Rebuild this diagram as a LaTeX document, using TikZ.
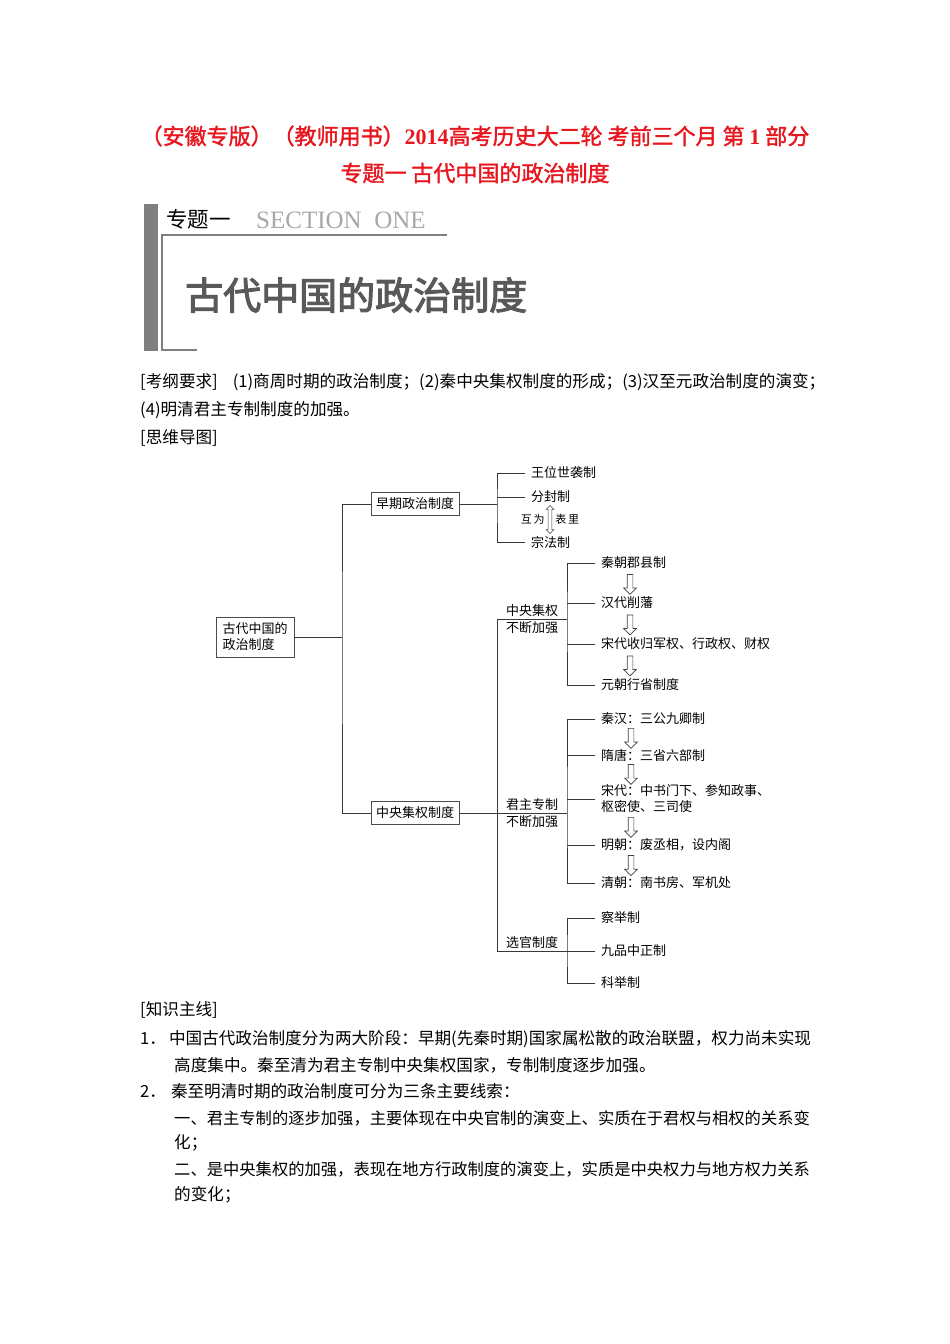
\documentclass[tikz,border=0pt]{standalone}
\usepackage{fontspec}
\setmainfont{Liberation Serif}
\newfontfamily\cjk{Noto Sans CJK SC}
\newfontfamily\cjkheavy[FakeBold=1.6]{Noto Sans CJK SC}
\newfontfamily\cjkblack[FakeBold=2.8]{Noto Sans CJK SC}
\usepackage{tikz}
\usetikzlibrary{shapes.arrows,positioning,calc}
\definecolor{titlered}{HTML}{E8161E}
\definecolor{banner}{HTML}{7F7F7F}
\definecolor{bannertext}{HTML}{595959}
\definecolor{sectiongray}{HTML}{A8A8A8}
\newcommand{\mapfont}{\cjk\fontsize{13}{16}\selectfont}
\newcommand{\bodyfont}{\cjk\fontsize{16.6}{19}\selectfont}

\begin{document}
\begin{tikzpicture}[x=1pt,y=-1pt,
        line/.style={draw=black!78,line width=0.8pt},
        box/.style={draw=black!70,line width=0.8pt,font=\mapfont,
                    minimum height=23pt,inner xsep=5pt},
        leaf/.style={font=\mapfont,anchor=west,inner xsep=6pt,inner ysep=2pt,align=left},
        grp/.style={font=\mapfont,inner sep=2pt},
        tinylbl/.style={font=\cjk\fontsize{11}{12}\selectfont,inner sep=1pt},
        hollow/.style={single arrow,draw=black!75,line width=0.7pt,fill=white,
                       shape border rotate=270,minimum height=20pt,
                       single arrow head extend=3.5pt,inner sep=2.5pt},
        twoway/.style={double arrow,draw=black!75,line width=0.6pt,fill=white,
                       shape border rotate=90,minimum height=28pt,
                       double arrow head extend=2pt,inner sep=1.6pt},
        body/.style={font=\bodyfont,anchor=west,inner sep=0pt},
        tightbody/.style={body,font=\cjk\fontsize{16.3}{19}\selectfont},
        heading/.style={font=\cjkheavy\fontsize{22}{26}\selectfont,text=titlered,inner sep=0pt}
      ]
        \useasboundingbox[fill=white] (0,0) rectangle (950,1344);

        % page title
        \node[heading] (title1) at (475,136)
          {（安徽专版）（教师用书）{\rmfamily\bfseries 2014}高考历史大二轮 考前三个月 第 {\rmfamily\bfseries 1} 部分};
        \node[heading] (title2) at (475,173) {专题一 古代中国的政治制度};

        % banner
        \fill[banner] (143.5,204) rectangle (157.5,351);
        \draw[banner,line width=1.3pt] (447,235) -- (162,235) -- (162,350) -- (197,350);
        \node[font=\cjk\fontsize{21.5}{24}\selectfont,anchor=west,inner sep=0pt] (topic) at (166,219) {专题一};
        \node[font=\fontsize{25}{28}\selectfont,text=sectiongray,anchor=west,inner sep=0pt] (section)
          at (256,220) {SECTION\ \ ONE};
        \node[font=\cjkblack\fontsize{38}{42}\selectfont,text=bannertext,anchor=west,inner sep=0pt] (bigtitle)
          at (185,295) {古代中国的政治制度};

        % outline text
        \node[body] (req1) at (140,382)
          {[考纲要求]\hspace{15pt}(1)商周时期的政治制度；(2)秦中央集权制度的形成；(3)汉至元政治制度的演变；};
        \node[body] (req2) at (140,410) {(4)明清君主专制制度的加强。};
        \node[body] (mapttl) at (140,438) {[思维导图]};

        % mind map: root and first level
        \node[box,align=left,minimum width=78pt,minimum height=40pt,inner xsep=6pt] (root) at (255,637)
          {古代中国的\\政治制度};
        \node[box] (early) at (415,504) {早期政治制度};
        \node[box] (central) at (415,813) {中央集权制度};
        \coordinate (j1) at (342,637);
        \draw[line] (root.east) -- (j1);
        \draw[line] (early.west) -| (j1) |- (central.west);

        % early institutions
        \coordinate (e1) at (497,504);
        \node[leaf] (wang) at (525,473) {王位世袭制};
        \node[leaf] (fen) at (525,497) {分封制};
        \node[leaf] (zong) at (525,542) {宗法制};
        \draw[line] (early.east) -- (e1);
        \draw[line] (wang.west) -| (e1) |- (zong.west);
        \draw[line] (fen.west) -- (fen.west -| e1);
        \coordinate (dx) at (550,0);
        \path (fen.south -| dx) -- (zong.north -| dx) node[midway,twoway] (bond) {};
        \node[tinylbl,left=2pt of bond] (huwei) {互\,为};
        \node[tinylbl,right=2pt of bond] (biaoli) {表\,里};

        % centralization: three lines
        \coordinate (c1) at (497,813);
        \coordinate (zy) at (567,619);
        \coordinate (jz) at (567,813);
        \coordinate (xg) at (567,951);
        \draw[line] (central.east) -- (c1);
        \draw[line] (c1) -- (jz) node[grp,midway,above] {君主专制} node[grp,midway,below] {不断加强};
        \draw[line] (zy) -- (zy -| c1) node[grp,midway,above] {中央集权} node[grp,midway,below] {不断加强}
          -- (xg -| c1) -- (xg) node[grp,midway,above] {选官制度};

        % local administration
        \node[leaf] (qin) at (595,563) {秦朝郡县制};
        \node[leaf] (han) at (595,603) {汉代削藩};
        \node[leaf] (song) at (595,644) {宋代收归军权、行政权、财权};
        \node[leaf] (yuan) at (595,685) {元朝行省制度};
        \draw[line] (qin.west) -| (zy) |- (yuan.west);
        \draw[line] (han.west) -- (han.west -| zy);
        \draw[line] (song.west) -- (song.west -| zy);
        \coordinate (ax) at (630,0);
        \path (qin.south -| ax) -- (han.north -| ax) node[midway,hollow] {};
        \path (han.south -| ax) -- (song.north -| ax) node[midway,hollow] {};
        \path (song.south -| ax) -- (yuan.north -| ax) node[midway,hollow] {};

        % central offices
        \node[leaf] (qinhan) at (595,719) {秦汉：三公九卿制};
        \node[leaf] (suitang) at (595,755) {隋唐：三省六部制};
        \node[leaf] (songdai) at (595,799) {宋代：中书门下、参知政事、\\枢密使、三司使};
        \node[leaf] (ming) at (595,845) {明朝：废丞相，设内阁};
        \node[leaf] (qing) at (595,883) {清朝：南书房、军机处};
        \draw[line] (qinhan.west) -| (jz) |- (qing.west);
        \draw[line] (suitang.west) -- (suitang.west -| jz);
        \draw[line] (songdai.west) -- (songdai.west -| jz);
        \draw[line] (ming.west) -- (ming.west -| jz);
        \coordinate (bx) at (631,0);
        \path (qinhan.south -| bx) -- (suitang.north -| bx) node[midway,hollow] {};
        \path (suitang.south -| bx) -- (songdai.north -| bx) node[midway,hollow] {};
        \path (songdai.south -| bx) -- (ming.north -| bx) node[midway,hollow] {};
        \path (ming.south -| bx) -- (qing.north -| bx) node[midway,hollow] {};

        % selection of officials
        \node[leaf] (chaju) at (595,918) {察举制};
        \node[leaf] (jiupin) at (595,951) {九品中正制};
        \node[leaf] (keju) at (595,983) {科举制};
        \draw[line] (chaju.west) -| (xg) |- (keju.west);
        \draw[line] (xg) -- (jiupin.west);

        % main threads
        \node[body] (thread) at (140,1010) {[知识主线]};
        \node[body] (p1a) at (140,1039) {1．\hspace{3pt}中国古代政治制度分为两大阶段：早期(先秦时期)国家属松散的政治联盟，权力尚未实现};
        \node[body] (p1b) at (174,1065) {高度集中。秦至清为君主专制中央集权国家，专制制度逐步加强。};
        \node[body] (p2a) at (140,1091) {2．\hspace{5pt}秦至明清时期的政治制度可分为三条主要线索：};
        \node[tightbody] (p2b) at (174,1118) {一、君主专制的逐步加强，主要体现在中央官制的演变上、实质在于君权与相权的关系变};
        \node[body] (p2c) at (174,1143) {化；};
        \node[tightbody] (p2d) at (174,1169) {二、是中央集权的加强，表现在地方行政制度的演变上，实质是中央权力与地方权力关系};
        \node[body] (p2e) at (174,1195) {的变化；};
      \end{tikzpicture}
\end{document}
